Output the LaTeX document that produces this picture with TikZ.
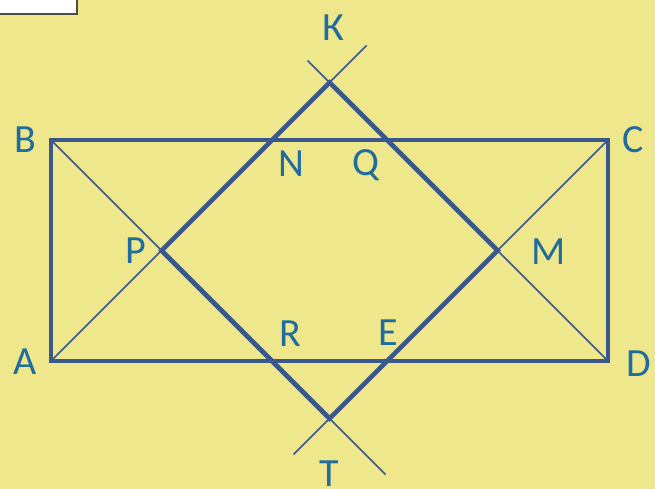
\documentclass[tikz,border=0pt]{standalone}
\usepackage{fontspec}
\setmainfont{Carlito}
\usetikzlibrary{calc}
\definecolor{bgyellow}{RGB}{238,231,140}
\definecolor{linebl}{RGB}{58,88,140}
\definecolor{lblbl}{RGB}{32,108,158}

\begin{document}
\begin{tikzpicture}[x=1pt, y=-1pt,
    thin line/.style={draw=linebl, line width=1.6pt},
    thick line/.style={draw=linebl, line width=4.6pt, line join=miter},
    lbl/.style={text=lblbl, font=\fontsize{40}{40}\selectfont, inner sep=0pt}
]
    \useasboundingbox[fill=bgyellow] (0,0) rectangle (655,489);
    % box in the corner
    \draw[fill=white, draw=black!70, line width=2pt] (-5,-5) rectangle (77,14);

    \coordinate (A) at (51,361);
    \coordinate (B) at (51,140);
    \coordinate (C) at (608,140);
    \coordinate (D) at (608,361);
    \coordinate (K) at (329.5,82.5);
    \coordinate (T) at (329.5,418.5);
    \coordinate (P) at (161.5,250.5);
    \coordinate (M) at (497.5,250.5);
    \coordinate (k1) at ($(K)+(37,-37)$);
    \coordinate (k2) at ($(K)+(-22,-22)$);
    \coordinate (t1) at ($(T)+(-36,36)$);
    \coordinate (t2) at ($(T)+(56,56)$);

    % thin lines through the corners
    \draw[thin line] (A) -- (k1);
    \draw[thin line] (D) -- (k2);
    \draw[thin line] (B) -- (t2);
    \draw[thin line] (C) -- (t1);

    % rectangle and rhombus
    \draw[thick line] (A) -- (B) -- (C) -- (D) -- cycle;
    \draw[thick line] (P) -- (K) -- (M) -- (T) -- cycle;

    \node[lbl] (lA) at (25,362) {A};
    \node[lbl] (lB) at (25,140) {B};
    \node[lbl] (lC) at (633,140) {C};
    \node[lbl] (lD) at (639,364) {D};
    \node[lbl] (lK) at (333,28) {К};
    \node[lbl] (lT) at (329,474) {Т};
    \node[lbl] (lN) at (291,164) {N};
    \node[lbl] (lQ) at (366,165) {Q};
    \node[lbl] (lP) at (136,251) {P};
    \node[lbl] (lM) at (549,252) {M};
    \node[lbl] (lR) at (290,334) {R};
    \node[lbl] (lE) at (388,333) {E};
\end{tikzpicture}
\end{document}
